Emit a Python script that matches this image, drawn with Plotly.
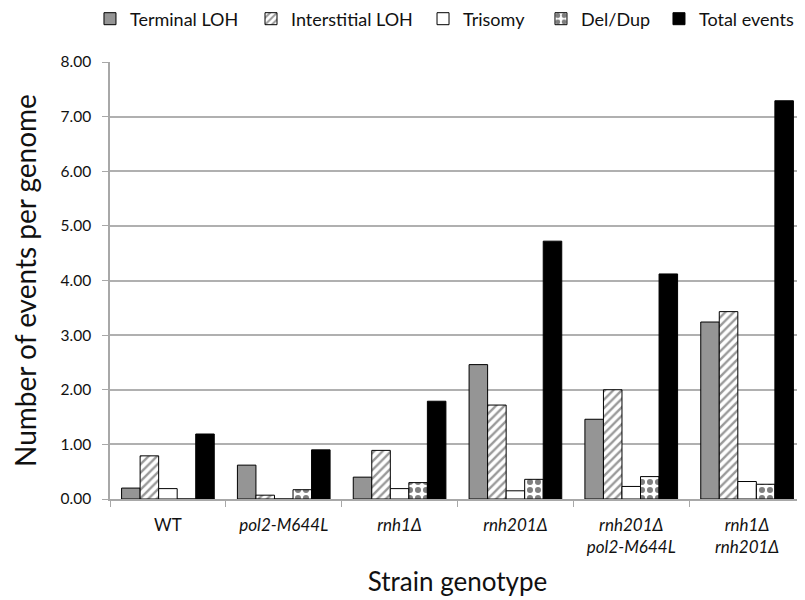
import plotly.graph_objects as go

categories = ["WT", "<i>pol2-M644L</i>", "<i>rnh1Δ</i>", "<i>rnh201Δ</i>",
              "<i>rnh201Δ</i><br><i>pol2-M644L</i>", "<i>rnh1Δ</i><br><i>rnh201Δ</i>"]
series_names = ["Terminal LOH", "Interstitial LOH", "Trisomy", "Del/Dup", "Total events"]
terminal_loh = [0.20, 0.62, 0.40, 2.46, 1.46, 3.24]
interstitial_loh = [0.79, 0.07, 0.89, 1.72, 2.00, 3.43]
trisomy = [0.19, 0.00, 0.19, 0.15, 0.23, 0.32]
del_dup = [0.00, 0.17, 0.30, 0.36, 0.41, 0.27]
total_events = [1.19, 0.90, 1.79, 4.72, 4.12, 7.29]
y_ticks = [0, 1, 2, 3, 4, 5, 6, 7, 8]
y_tick_labels = ["0.00", "1.00", "2.00", "3.00", "4.00", "5.00", "6.00", "7.00", "8.00"]

values = [terminal_loh, interstitial_loh, trisomy, del_dup, total_events]
styles = [
    dict(color="#959595", pattern=dict(shape="")),
    dict(color="white", pattern=dict(shape="/", fgcolor="#333333", bgcolor="white", size=6, solidity=0.4)),
    dict(color="white", pattern=dict(shape="")),
    dict(color="white", pattern=dict(shape=".", fgcolor="black", bgcolor="white", size=8, solidity=0.45)),
    dict(color="black", pattern=dict(shape="")),
]
legend_x = [-0.0288, 0.2029, 0.4504, 0.6201, 0.7899]

FONT = "Lato, Open Sans, sans-serif"
TXT = "#111111"
fig = go.Figure()
legend_layouts = {}
for i, (name, vals, st) in enumerate(zip(series_names, values, styles)):
    key = "legend" if i == 0 else f"legend{i+1}"
    fig.add_trace(go.Bar(
        name=name, x=categories, y=vals, legend=key,
        marker=dict(color=st["color"], pattern=st["pattern"],
                    line=dict(color="black", width=1)),
    ))
    legend_layouts[key] = dict(orientation="h", x=legend_x[i], xanchor="left",
                               y=1.0984, yanchor="middle", bgcolor="rgba(0,0,0,0)",
                               font=dict(size=18, family=FONT, color=TXT), itemwidth=30)

# the page body adds an 8px offset, so margins are shifted accordingly
fig.update_layout(
    width=805, height=600,
    barmode="group", bargap=0.2, bargroupgap=0,
    plot_bgcolor="white", paper_bgcolor="white",
    margin=dict(l=102, r=8, t=54, b=109, autoexpand=False),
    font=dict(family=FONT, color=TXT, size=16),
    showlegend=True,
    **legend_layouts,
)
fig.update_xaxes(
    showline=True, linecolor="#a8a8a8", linewidth=1.5,
    ticks="outside", tickson="boundaries", ticklen=6, tickcolor="#a8a8a8",
    tickfont=dict(size=17, family=FONT, color=TXT), ticklabelstandoff=10,
    automargin=False,
    title=dict(text="Strain genotype", font=dict(size=26, family=FONT, color=TXT), standoff=17),
)
fig.update_yaxes(
    range=[0, 8], tickvals=y_ticks, ticktext=y_tick_labels,
    showgrid=True, gridcolor="#b0b0b0", gridwidth=1.5,
    showline=True, linecolor="#a8a8a8", linewidth=1.5,
    ticks="outside", ticklen=6, tickcolor="#a8a8a8",
    tickfont=dict(size=15.5, family=FONT, color=TXT), ticklabelstandoff=8,
    automargin=False,
    title=dict(text="Number of events per genome", font=dict(size=28, family=FONT, color=TXT), standoff=19),
    zeroline=False,
)

fig.write_html("out.html")
